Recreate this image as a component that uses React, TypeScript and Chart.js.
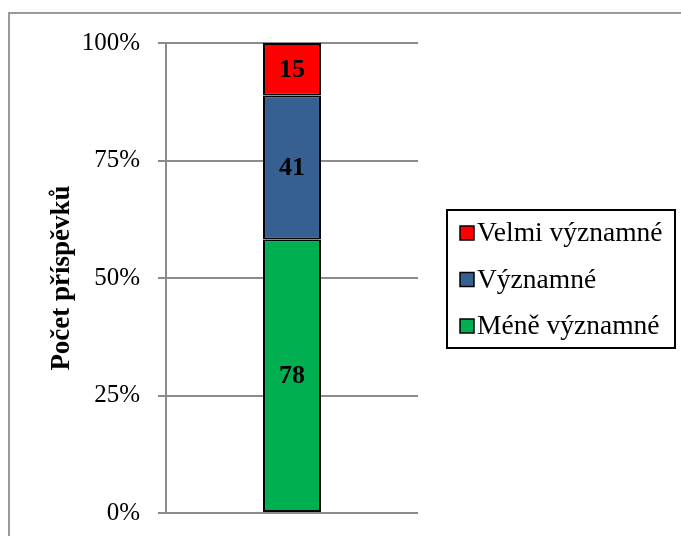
import { useEffect, useRef } from "react";
import { Chart, registerables } from "chart.js";

Chart.register(...registerables);

const categories = ["Příspěvky"];
const seriesNames = ["Méně významné", "Významné", "Velmi významné"];
const meneVyznamne = [78];
const vyznamne = [41];
const velmiVyznamne = [15];
const seriesColors = ["#00B050", "#376092", "#FF0000"];
const yTickValues = [0, 25, 50, 75, 100];
const yTitle = "Počet příspěvků";

const SERIF = "'Liberation Serif', 'Times New Roman', serif";

export default function App() {
  const canvasRef = useRef<HTMLCanvasElement | null>(null);

  useEffect(() => {
    const canvas = canvasRef.current;
    if (!canvas) return;
    const seriesCounts = [meneVyznamne, vyznamne, velmiVyznamne];
    const totals = categories.map((_, i) =>
      seriesCounts.reduce((s, arr) => s + arr[i], 0)
    );
    const pct = seriesCounts.map((arr) => arr.map((v, i) => (v / totals[i]) * 100));

    const frame = {
      id: "frame",
      beforeDraw(chart: any) {
        const ctx = chart.ctx;
        ctx.save();
        ctx.strokeStyle = "#9a9a9a";
        ctx.lineWidth = 2;
        ctx.strokeRect(9, 13, 900, 900);
        ctx.restore();
      },
    };

    const dataLabels = {
      id: "dataLabels",
      afterDatasetsDraw(chart: any) {
        const ctx = chart.ctx;
        ctx.save();
        ctx.font = `bold 26px ${SERIF}`;
        ctx.fillStyle = "#000";
        ctx.textAlign = "center";
        ctx.textBaseline = "middle";
        chart.data.datasets.forEach((ds: any, di: number) => {
          const meta = chart.getDatasetMeta(di);
          meta.data.forEach((el: any, j: number) => {
            const p = el.getProps(["x", "y", "base"], true);
            ctx.fillText(String(ds.counts[j]), p.x, (p.y + p.base) / 2 + 1);
          });
        });
        ctx.restore();
      },
    };

    const boxLegend = {
      id: "boxLegend",
      afterDraw(chart: any) {
        const ctx = chart.ctx;
        ctx.save();
        ctx.strokeStyle = "#000";
        ctx.lineWidth = 2;
        ctx.strokeRect(447, 210, 228, 138);
        const ds = chart.data.datasets.slice().reverse();
        ds.forEach((d: any, i: number) => {
          const cy = 233 + i * 46.5;
          ctx.fillStyle = d.backgroundColor;
          ctx.fillRect(460, cy - 7, 14, 14);
          ctx.lineWidth = 1.5;
          ctx.strokeStyle = "#000";
          ctx.strokeRect(460, cy - 7, 14, 14);
          ctx.fillStyle = "#000";
          ctx.font = `27.5px ${SERIF}`;
          ctx.textAlign = "left";
          ctx.textBaseline = "middle";
          ctx.fillText(d.label, 477, cy + 1);
        });
        ctx.restore();
      },
    };

    const chart = new Chart(canvas, {
      type: "bar",
      data: {
        labels: categories,
        datasets: seriesNames.map((name, i) => ({
          label: name,
          data: pct[i],
          counts: seriesCounts[i],
          backgroundColor: seriesColors[i],
          borderColor: "#000",
          borderWidth: 2,
          borderSkipped: false,
          categoryPercentage: 1,
          barPercentage: 0.23,
        })) as any,
      },
      options: {
        responsive: false,
        animation: false,
        layout: { padding: { left: 0, top: 43, right: 263, bottom: 23 } },
        plugins: {
          legend: { display: false },
          tooltip: { enabled: false },
        },
        scales: {
          x: { display: false, stacked: true },
          y: {
            stacked: true,
            min: 0,
            max: 100,
            afterBuildTicks: (scale: any) => {
              scale.ticks = yTickValues.map((v) => ({ value: v }));
            },
            afterFit: (scale: any) => {
              scale.width = 166;
              scale.paddingTop = 0;
              scale.paddingBottom = 0;
            },
            ticks: {
              padding: 18,
              color: "#000",
              font: { family: SERIF, size: 25 },
              callback: (v: any) => `${v}%`,
            },
            grid: {
              color: "#8c8c8c",
              lineWidth: 2,
              drawTicks: true,
              tickLength: 8,
              tickColor: "#8c8c8c",
            },
            border: { display: true, color: "#8c8c8c", width: 2 },
            title: {
              display: true,
              text: yTitle,
              color: "#000",
              font: { family: SERIF, size: 27, weight: "bold" },
              padding: { top: 46, bottom: 0 },
            },
          },
        },
      },
      plugins: [frame, dataLabels, boxLegend],
    });
    return () => chart.destroy();
  }, []);

  return (
    <div style={{ position: "absolute", left: 0, top: 0, width: 681, height: 536, background: "#fff" }}>
      <canvas ref={canvasRef} width={681} height={536} style={{ width: 681, height: 536, display: "block" }} />
    </div>
  );
}
